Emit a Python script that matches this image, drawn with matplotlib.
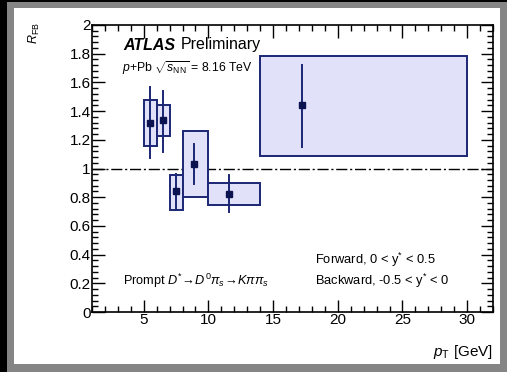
import numpy as np
import matplotlib.pyplot as plt
from matplotlib.patches import Rectangle

# bins in pT and the measured R_FB values
bin_lo = [5, 6, 7, 8, 10, 14]
bin_hi = [6, 7, 8, 10, 14, 30]
pt = [5.5, 6.5, 7.5, 8.9, 11.6, 17.25]
rfb = [1.32, 1.335, 0.84, 1.03, 0.825, 1.44]
stat_up = [1.565, 1.54, 0.965, 1.17, 0.957, 1.72]
stat_dn = [1.075, 1.115, 0.71, 0.89, 0.695, 1.15]
syst_up = [1.48, 1.445, 0.955, 1.26, 0.897, 1.785]
syst_dn = [1.155, 1.225, 0.71, 0.80, 0.745, 1.09]

navy = '#1b2675'
dark = '#0b1250'
fill = '#e1e1fa'

plt.rcParams['font.family'] = ['Liberation Sans', 'DejaVu Sans']
plt.rcParams['mathtext.fontset'] = 'custom'
plt.rcParams['mathtext.rm'] = 'Liberation Sans'
plt.rcParams['mathtext.it'] = 'Liberation Sans:italic'
plt.rcParams['mathtext.bf'] = 'Liberation Sans:bold'

W, H = 507, 372
fig = plt.figure(figsize=(W / 100, H / 100), dpi=100, facecolor='black')
# grey frame and white panel
fig.patches.append(Rectangle((7 / W, 0), 1 - 7 / W, 1 - 2 / H, transform=fig.transFigure,
                             facecolor='#858585', edgecolor='none', zorder=-2))
fig.patches.append(Rectangle((14 / W, 1 - 364 / H), (500 - 14) / W, (364 - 8) / H,
                             transform=fig.transFigure, facecolor='white', edgecolor='none', zorder=-1))

ax = fig.add_axes([92 / W, 1 - 312 / H, (493 - 92) / W, (312 - 25) / H])
ax.set_facecolor('white')

for i in range(len(pt)):
    ax.add_patch(Rectangle((bin_lo[i], syst_dn[i]), bin_hi[i] - bin_lo[i], syst_up[i] - syst_dn[i],
                           facecolor=fill, edgecolor=navy, lw=1.4, zorder=2))
    ax.plot([pt[i], pt[i]], [stat_dn[i], stat_up[i]], color=navy, lw=1.4, zorder=3)
ax.plot(pt, rfb, 's', color=dark, markersize=4.5, zorder=4)

ax.axhline(1, color='black', lw=1.0, linestyle=(0, (8, 2, 1.5, 2)), zorder=1)

ax.set_xlim(1, 32)
ax.set_ylim(0, 2)
ax.set_xticks([5, 10, 15, 20, 25, 30])
ax.set_xticks(np.arange(1, 33, 1), minor=True)
ax.set_yticks(np.arange(0, 2.01, 0.2))
ax.set_yticklabels(['0', '0.2', '0.4', '0.6', '0.8', '1', '1.2', '1.4', '1.6', '1.8', '2'])
ax.set_yticks(np.arange(0, 2.001, 0.04), minor=True)
ax.tick_params(which='both', direction='in', top=True, right=True, labelsize=11, width=1.0, colors='black')
ax.tick_params(which='major', length=9, pad=1)
ax.tick_params(which='minor', length=4.5)
for s in ax.spines.values():
    s.set_linewidth(1.2)

fig.text(34 / W, 1 - 22 / H, r'$R_{\mathrm{FB}}$', rotation=90, ha='center', va='top', fontsize=9)
fig.text(493 / W, 1 - 352 / H, r'$p_{\mathrm{T}}$ [GeV]', ha='right', va='center', fontsize=11)

fig.text(123 / W, 1 - 45 / H, 'ATLAS', ha='left', va='center', fontsize=11.5,
         fontweight='bold', fontstyle='italic')
fig.text(181 / W, 1 - 45 / H, 'Preliminary', ha='left', va='center', fontsize=11.5)
fig.text(122 / W, 1 - 68 / H, r'$p$+Pb $\sqrt{s_{\mathrm{NN}}}$ = 8.16 TeV', ha='left', va='center', fontsize=8.8)
fig.text(123 / W, 1 - 281 / H, r'Prompt $D^{*}\!\rightarrow\! D^{0}\pi_{s}\!\rightarrow\! K\pi\pi_{s}$',
         ha='left', va='center', fontsize=9.2)
fig.text(315 / W, 1 - 260 / H, r'Forward, 0 < y$^{*}$ < 0.5', ha='left', va='center', fontsize=9.3)
fig.text(315 / W, 1 - 281 / H, r'Backward, -0.5 < y$^{*}$ < 0', ha='left', va='center', fontsize=9.3)

fig.savefig('out.png', dpi=100, facecolor=fig.get_facecolor())
